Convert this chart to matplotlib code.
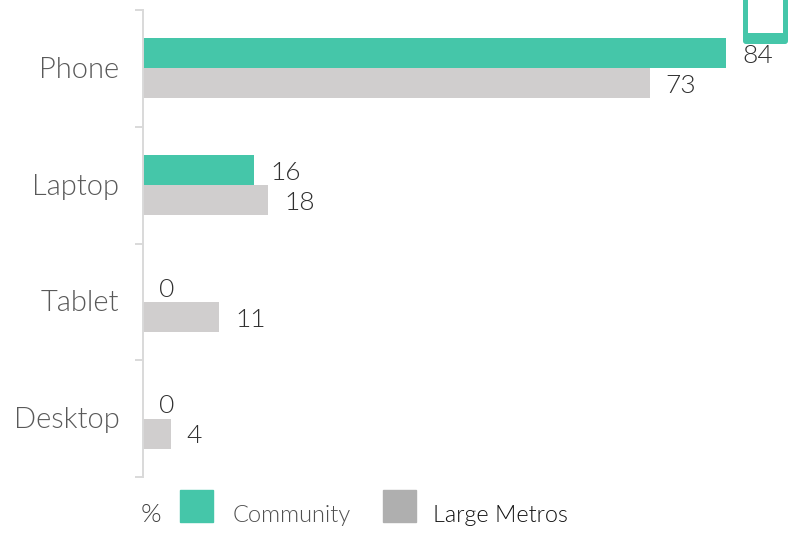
import matplotlib
matplotlib.use('Agg')
import matplotlib.pyplot as plt
from matplotlib.patches import Rectangle, FancyBboxPatch
from matplotlib.transforms import IdentityTransform, Affine2D

categories = ['Phone', 'Laptop', 'Tablet', 'Desktop']
community = [84, 16, 0, 0]
large_metros = [73, 18, 11, 4]

GREEN = '#45c6a9'
GRAY = '#d0cece'
W, H = 802, 534

plt.rcParams['font.family'] = ['Lato', 'DejaVu Sans']
plt.rcParams['font.weight'] = 300

fig = plt.figure(figsize=(W / 100, H / 100), dpi=100)
ax = fig.add_axes([143 / W, 1 - 477 / H, (W - 143) / W, 467 / H])
ax.patch.set_alpha(0)

bar_h = 0.257
for i, (c, m) in enumerate(zip(community, large_metros)):
    ax.barh(i - bar_h / 2, c, height=bar_h, color=GREEN)
    ax.barh(i + bar_h / 2, m, height=bar_h, color=GRAY)
    ax.annotate(str(c), (c, i - bar_h / 2), xytext=(11.5, -2), textcoords='offset points',
                va='center', ha='left', fontsize=19, color='#303030')
    ax.annotate(str(m), (m, i + bar_h / 2), xytext=(11.5, -2), textcoords='offset points',
                va='center', ha='left', fontsize=19, color='#303030')

ax.set_xlim(0, (W - 143) / 6.94)
ax.set_ylim(3.5, -0.5)
ax.set_xticks([])
ax.set_yticks(range(len(categories)))
ax.set_yticklabels(categories, fontsize=21, color='#595959')
ax.tick_params(axis='y', which='major', length=0, pad=17)
ax.set_yticks([-0.5, 0.5, 1.5, 2.5, 3.5], minor=True)
ax.tick_params(axis='y', which='minor', length=6, width=1.4, color='#d9d9d9')
for lbl in ax.get_yticklabels():
    lbl.set_transform(lbl.get_transform() + Affine2D().translate(0, 1))
for s in ['top', 'right', 'bottom']:
    ax.spines[s].set_visible(False)
ax.spines['left'].set_color('#d9d9d9')
ax.spines['left'].set_linewidth(1.4)

# teal box cut off at the top right, thicker along the bottom
fig.add_artist(FancyBboxPatch((743, H - 44), 45, 80, boxstyle='round,pad=0,rounding_size=3',
                              transform=IdentityTransform(), facecolor=GREEN, edgecolor='none'))
fig.add_artist(Rectangle((748, H - 33), 35, 60, transform=IdentityTransform(),
                         facecolor='white', edgecolor='none'))

# legend
fig.text(151 / W, 1 - 515 / H, '%', ha='center', va='center', fontsize=19, color='#404040')
fig.add_artist(Rectangle((180 / W, 1 - 522 / H), 33 / W, 32 / H, transform=fig.transFigure, color=GREEN))
fig.text(233 / W, 1 - 515.5 / H, 'Community', ha='left', va='center', fontsize=17, color='#505050')
fig.add_artist(Rectangle((383 / W, 1 - 522 / H), 33 / W, 32 / H, transform=fig.transFigure, color='#afafaf'))
fig.text(433 / W, 1 - 515.5 / H, 'Large Metros', ha='left', va='center', fontsize=16.8, color='#111111')

plt.savefig('out.png', dpi=100)
